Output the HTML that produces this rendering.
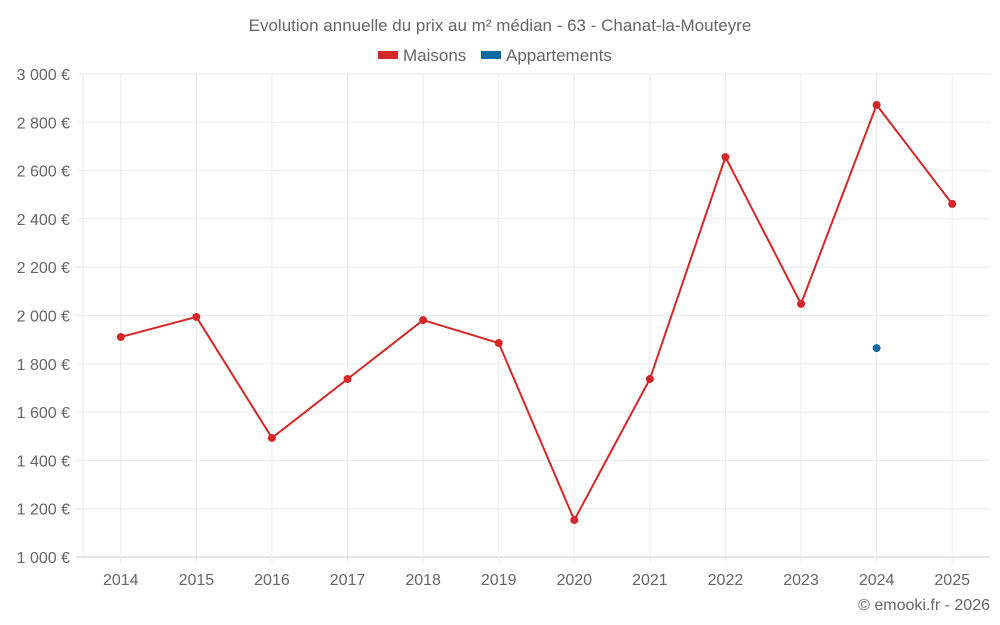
<!DOCTYPE html>
<html><head><meta charset="utf-8"><style>
html,body{margin:0;padding:0;background:#fff;width:1000px;height:625px;overflow:hidden}
svg text{font-family:"Liberation Sans",sans-serif;fill:#666}
</style></head><body>
<svg id="chart" width="1000" height="625">
<text x="500" y="31" text-anchor="middle" font-size="17">Evolution annuelle du prix au m² médian - 63 - Chanat-la-Mouteyre</text>
<g>
<g><rect x="378" y="51" width="20" height="8" fill="#d62728"/><text x="403" y="61" font-size="17">Maisons</text></g>
<g><rect x="481" y="51" width="20" height="8" fill="#0b6aa2"/><text x="506" y="61" font-size="17">Appartements</text></g>
</g>
<g id="grid"></g><g id="axes"></g><g id="series"></g>
<text x="990" y="610" text-anchor="end" font-size="16">© emooki.fr - 2026</text>
</svg>
<script>
const years=["2014","2015","2016","2017","2018","2019","2020","2021","2022","2023","2024","2025"];
const maisons=[1911,1994,1493,1737,1981,1886,1153,1737,2656,2048,2872,2462];
const appartements=[null,null,null,null,null,null,null,null,null,null,1865,null];
const yTicks=[1000,1200,1400,1600,1800,2000,2200,2400,2600,2800,3000];
const yTickLabels=["1 000 €","1 200 €","1 400 €","1 600 €","1 800 €","2 000 €","2 200 €","2 400 €","2 600 €","2 800 €","3 000 €"];
const L=83,R=990,T=74,B=557,ns="http://www.w3.org/2000/svg";
const step=(R-L)/years.length;
const x=i=>L+step*(i+0.5);
const y=v=>B-(v-1000)/2000*(B-T);
function mk(tag,attrs,parent){const e=document.createElementNS(ns,tag);for(const k in attrs)e.setAttribute(k,attrs[k]);parent.appendChild(e);return e;}
const g=document.getElementById('grid'),a=document.getElementById('axes'),s=document.getElementById('series');
yTicks.forEach((t,i)=>{
 const l=mk('line',{x1:76,x2:R,y1:y(t),y2:y(t),stroke:i===0?'#ccc':'#ebebeb'},g);
 
 
 const tx=mk('text',{x:70,y:y(t)+6,'text-anchor':'end','font-size':16},a);tx.textContent=yTickLabels[i];
 
 
});
const ax=mk('line',{x1:L,x2:L,y1:T,y2:B,stroke:'#ebebeb'},g);


years.forEach((yr,i)=>{
 const l=mk('line',{x1:x(i),x2:x(i),y1:T,y2:B+6,stroke:'#ebebeb'},g);
 
 
 const tx=mk('text',{x:x(i),y:585,'text-anchor':'middle','font-size':16},a);tx.textContent=yr;
 
 
});
const pts=maisons.map((v,i)=>x(i)+','+y(v)).join(' ');
const pl=mk('polyline',{points:pts,fill:'none',stroke:'#d62728','stroke-width':2},s);


maisons.forEach((v,i)=>{
 const c=mk('circle',{cx:x(i),cy:y(v),r:4,fill:'#d62728'},s);
 
 
});
appartements.forEach((v,i)=>{
 if(v==null)return;
 const c=mk('circle',{cx:x(i),cy:y(v),r:4,fill:'#0b6aa2'},s);
 
 
});
</script>
</body></html>
